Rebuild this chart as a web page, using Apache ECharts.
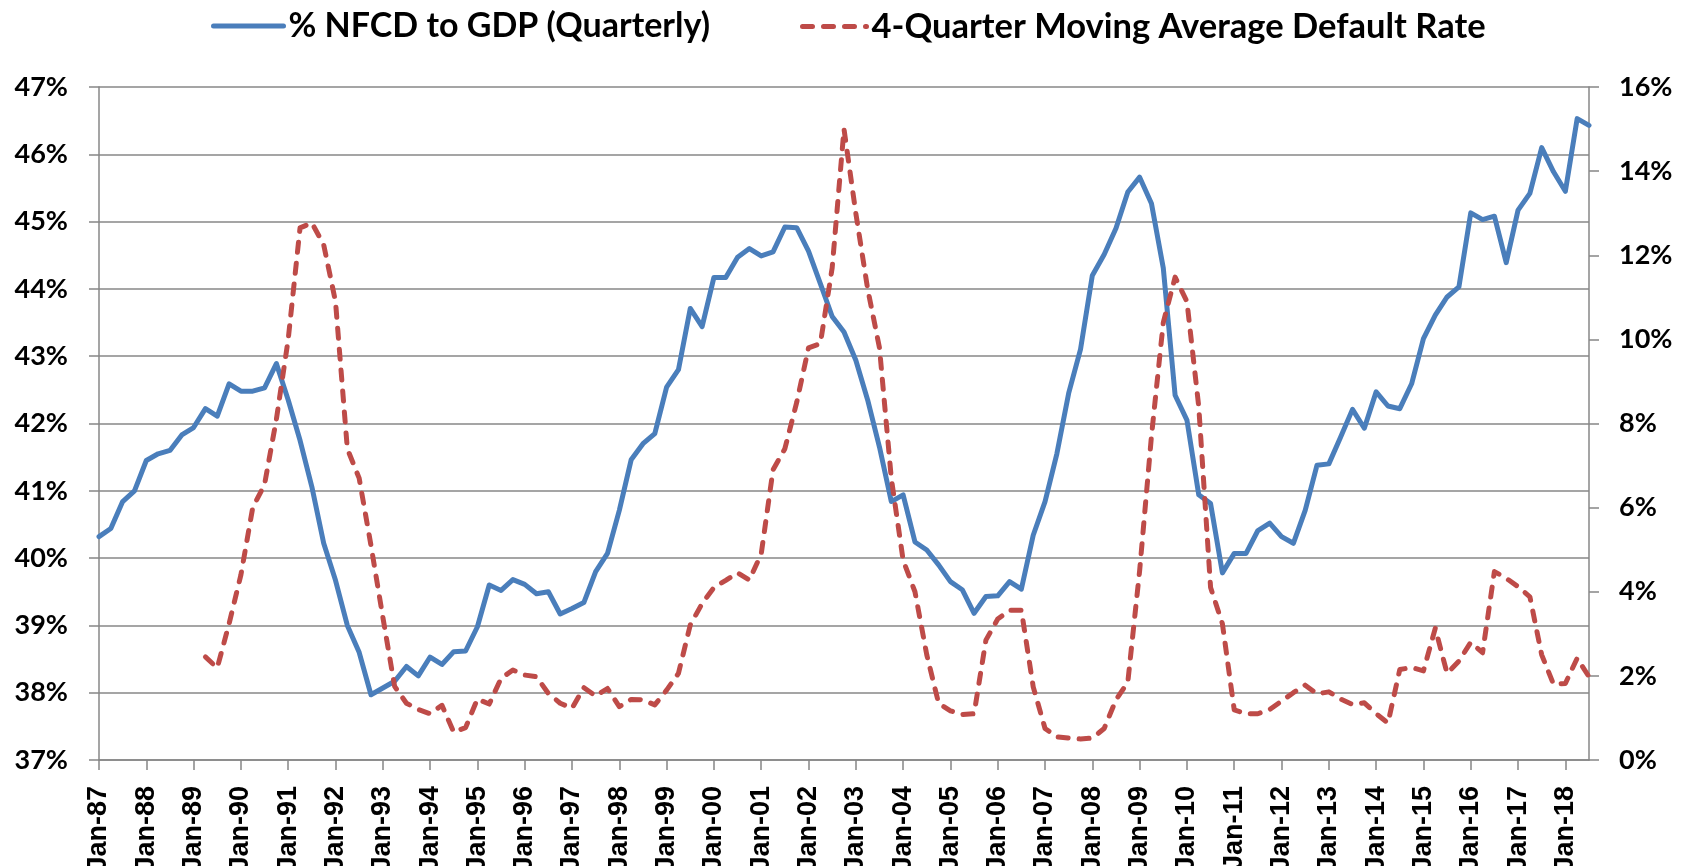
<!DOCTYPE html>
<html>
<head>
<meta charset="utf-8">
<script src="https://cdn.jsdelivr.net/npm/echarts@6/dist/echarts.min.js"></script>
<style>
  html, body { margin: 0; padding: 0; background: #ffffff; }
  #chart { width: 1692px; height: 866px; }
</style>
</head>
<body>
<div id="chart"></div>
<script>
// Quarterly categories: Jan-87 ... Jul-18
const startYear = 1987;
const quarterMonths = ['Jan', 'Apr', 'Jul', 'Oct'];
const quarterCount = 127;

const nfcdToGdp = [
  40.32,40.44,40.84,41.00,41.45,41.55,41.60,41.83,41.94,42.22,
  42.11,42.59,42.48,42.48,42.53,42.89,42.35,41.75,41.06,40.22,
  39.67,39.00,38.60,37.97,38.07,38.17,38.39,38.25,38.53,38.42,
  38.61,38.62,38.98,39.60,39.52,39.68,39.61,39.47,39.50,39.17,
  39.25,39.34,39.80,40.07,40.71,41.46,41.70,41.85,42.54,42.80,
  43.71,43.44,44.17,44.17,44.47,44.60,44.49,44.55,44.92,44.91,
  44.56,44.08,43.59,43.36,42.94,42.35,41.65,40.84,40.94,40.24,
  40.12,39.90,39.65,39.53,39.18,39.43,39.44,39.65,39.54,40.34,
  40.84,41.55,42.45,43.10,44.20,44.51,44.90,45.44,45.66,45.27,
  44.31,42.42,42.05,40.94,40.81,39.78,40.07,40.07,40.41,40.52,
  40.32,40.22,40.71,41.38,41.40,41.80,42.21,41.93,42.47,42.26,
  42.22,42.59,43.26,43.61,43.88,44.03,45.13,45.03,45.08,44.39,
  45.17,45.42,46.10,45.74,45.45,46.53,46.43
];

const defaultRate = [
  null,null,null,null,null,null,null,null,null,2.45,
  2.19,3.24,4.40,6.00,6.55,8.10,10.00,12.65,12.77,12.25,
  10.90,7.40,6.70,5.10,3.40,1.75,1.35,1.20,1.10,1.30,
  0.66,0.77,1.45,1.33,1.94,2.14,2.02,1.98,1.58,1.35,
  1.23,1.72,1.52,1.70,1.27,1.44,1.43,1.31,1.66,2.06,
  3.21,3.72,4.10,4.27,4.45,4.28,4.90,6.90,7.40,8.50,
  9.80,9.90,11.70,15.00,13.00,11.20,9.80,6.70,4.75,4.00,
  2.50,1.35,1.17,1.08,1.10,2.85,3.35,3.56,3.56,1.74,
  0.75,0.55,0.52,0.50,0.52,0.75,1.43,1.85,4.50,7.70,
  10.40,11.48,10.90,8.40,4.10,3.24,1.19,1.10,1.10,1.20,
  1.40,1.60,1.78,1.57,1.62,1.45,1.32,1.36,1.10,0.88,
  2.15,2.20,2.12,3.13,2.06,2.35,2.80,2.55,4.48,4.32,
  4.12,3.88,2.50,1.80,1.82,2.42,1.98
];

const leftTicks = { min: 37, max: 47, interval: 1 };
const rightTicks = { min: 0, max: 16, interval: 2 };
const seriesNames = ['% NFCD to GDP (Quarterly)', '4-Quarter Moving Average Default Rate'];

const categories = [];
for (let i = 0; i < quarterCount; i++) {
  const y = startYear + Math.floor(i / 4);
  categories.push(quarterMonths[i % 4] + '-' + String(y % 100).padStart(2, '0'));
}

const grey = '#878787';
const blue = '#4A7EBB';
const red = '#BE4B48';
const redDash = [10, 11];
const chart = echarts.init(document.getElementById('chart'), null, { renderer: 'canvas' });

const legendText = { fontFamily: 'Lato', fontWeight: 'bold', fontSize: 34, color: '#000' };

const option = {
  backgroundColor: '#ffffff',
  animation: false,
  textStyle: { fontFamily: 'Lato' },
  legend: [
    {
      data: [seriesNames[0]], left: 206, top: 4,
      itemWidth: 70, itemHeight: 30, itemGap: 5,
      itemStyle: { opacity: 0 },
      lineStyle: { width: 5, color: blue, cap: 'round' },
      textStyle: legendText
    },
    {
      data: [seriesNames[1]], left: 795, top: 4,
      itemWidth: 64, itemHeight: 30, itemGap: 5,
      itemStyle: { opacity: 0 },
      lineStyle: { width: 5, color: red, type: redDash, cap: 'round' },
      textStyle: Object.assign({}, legendText, { fontSize: 34.5 })
    }
  ],
  grid: { left: 99, right: 103, top: 87, bottom: 106, containLabel: false, outerBoundsMode: 'none' },
  xAxis: {
    type: 'category',
    data: categories,
    boundaryGap: false,
    axisLine: { lineStyle: { color: grey, width: 1.5 } },
    axisTick: { show: true, interval: 3, length: 10, lineStyle: { color: grey, width: 1.5 } },
    axisLabel: {
      interval: 3, rotate: 90, margin: 26,
      fontFamily: 'Liberation Sans', fontWeight: 'bold', fontSize: 27, color: '#000'
    },
    splitLine: { show: false }
  },
  yAxis: [
    {
      type: 'value', position: 'left',
      min: leftTicks.min, max: leftTicks.max, interval: leftTicks.interval,
      axisLine: { show: true, lineStyle: { color: grey, width: 1.5 } },
      axisTick: { show: true, length: 10, lineStyle: { color: grey, width: 1.5 } },
      axisLabel: {
        formatter: '{value}%', margin: 31,
        fontFamily: 'Lato', fontWeight: 'bold', fontSize: 27, color: '#000'
      },
      splitLine: { show: true, lineStyle: { color: grey, width: 1.5 } }
    },
    {
      type: 'value', position: 'right',
      min: rightTicks.min, max: rightTicks.max, interval: rightTicks.interval,
      axisLine: { show: true, lineStyle: { color: grey, width: 1.5 } },
      axisTick: { show: true, length: 10, lineStyle: { color: grey, width: 1.5 } },
      axisLabel: {
        formatter: '{value}%', margin: 30,
        fontFamily: 'Lato', fontWeight: 'bold', fontSize: 27, color: '#000'
      },
      splitLine: { show: false }
    }
  ],
  series: [
    {
      name: seriesNames[0], type: 'line', yAxisIndex: 0,
      data: nfcdToGdp, symbol: 'none', smooth: false,
      lineStyle: { color: blue, width: 5, cap: 'round', join: 'round' },
      itemStyle: { color: blue }
    },
    {
      name: seriesNames[1], type: 'line', yAxisIndex: 1,
      data: defaultRate, symbol: 'none', smooth: false, connectNulls: false,
      lineStyle: { color: red, width: 5, type: redDash, cap: 'round', join: 'round' },
      itemStyle: { color: red }
    }
  ]
};
chart.setOption(option);
</script>
</body>
</html>
